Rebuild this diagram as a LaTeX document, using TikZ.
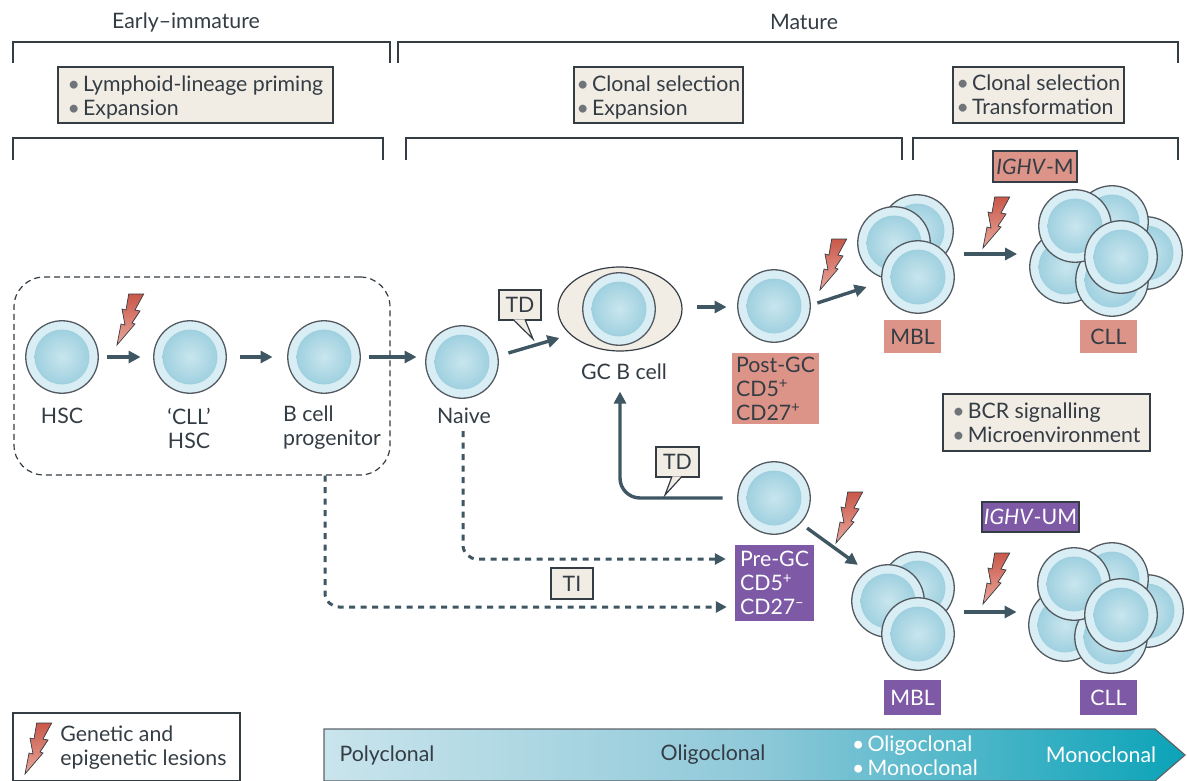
\documentclass[tikz,border=0pt]{standalone}
\usepackage{fontspec}
\setmainfont{Lato}
\usetikzlibrary{arrows.meta,shapes.geometric}
\definecolor{ink}{HTML}{343C44}
\definecolor{arrowc}{HTML}{3F5663}
\definecolor{beige}{HTML}{F1ECE4}
\definecolor{salmon}{HTML}{DD9488}
\definecolor{purp}{HTML}{7D59A6}
\definecolor{cellout}{HTML}{D9EEF4}
\definecolor{cellin}{HTML}{C9E6EE}
\definecolor{cellin2}{HTML}{9FD0DF}
\definecolor{bull}{HTML}{6E7478}
\definecolor{boltA}{HTML}{C9584A}
\definecolor{boltB}{HTML}{E9A79B}
\definecolor{barA}{HTML}{C9E4EC}
\definecolor{barB}{HTML}{8FC9D9}
\definecolor{barC}{HTML}{0BA3B8}
\newcommand{\bl}{\textcolor{bull}{•}\hspace{3pt}}
\newcommand{\wbl}{\textcolor{white}{•}\hspace{3pt}}
\newcommand{\upstrut}{\rule{0pt}{21pt}}
\newcommand{\mkcell}[3]{%
  \node[cellouter] (#1) at (#2,#3) {};
  \node[cellinner] (#1i) at (#2,#3) {};}
\tikzset{
  x=1pt,y=-1pt,
  every node/.style={font=\fontsize{21.3}{24}\selectfont,text=ink,inner sep=0pt},
  cellouter/.style={circle,minimum size=72.5pt,fill=cellout,draw=ink!85,line width=1.3pt},
  cellinner/.style={circle,minimum size=55pt,inner color=cellin,outer color=cellin2},
  brk/.style={draw=ink,line width=1.2pt},
  beigebox/.style={draw=ink,line width=1.2pt,fill=beige,align=left},
  salbox/.style={fill=salmon,align=left},
  purbox/.style={fill=purp,text=white,align=left},
  txt/.style={align=left},
  arr/.style={draw=arrowc,line width=3.4pt,-{Triangle[length=12pt,width=12pt]}},
  dasharr/.style={draw=arrowc,line width=3pt,dash pattern=on 6pt off 5.5pt,rounded corners=14pt,-{Triangle[length=11pt,width=11pt]}},
  boltshape/.style={draw=ink,line width=0.7pt,top color=boltA,bottom color=boltB},
  bolt/.pic={
    \path[boltshape] (0,0) -- (4,-21) -- (8,-20) -- (5,-36) -- (9,-35) -- (11.7,-51) -- (26.7,-51)
      -- (18,-35) -- (23,-34) -- (15,-22) -- (18,-21) -- cycle;
  }
}
\begin{document}
\begin{tikzpicture}
\useasboundingbox (0,0) rectangle (1187,781);
% headings
\node (hearly) at (186,22) {Early–immature};
\node (hmature) at (804,22) {Mature};
% brackets
\draw[brk] (13,63) -- (13,42) -- (390,42) -- (390,63);
\draw[brk] (398,63) -- (398,42) -- (1178,42) -- (1178,63);
\draw[brk] (13,160) -- (13,138) -- (383,138) -- (383,160);
\draw[brk] (406,160) -- (406,138) -- (902,138) -- (902,160);
\draw[brk] (913,160) -- (913,138) -- (1178,138) -- (1178,160);
% beige boxes
\node[beigebox,minimum width=275pt,minimum height=56pt] (b1) at (195.5,95) {\upstrut\bl Lymphoid-lineage priming\\\bl Expansion};
\node[beigebox,minimum width=169pt,minimum height=56pt] (b2) at (658.5,95) {\upstrut\bl Clonal selection\\\bl Expansion};
\node[beigebox,minimum width=171pt,minimum height=56pt] (b3) at (1038.5,95) {\bl Clonal selection\\\bl Transformation};
\node[beigebox,minimum width=207pt,minimum height=57pt] (b4) at (1046.5,422.5) {\bl BCR signalling\\\bl Microenvironment};
% dashed region
\node[draw=ink,line width=1.2pt,dash pattern=on 6pt off 4pt,rounded corners=30pt,minimum width=376pt,minimum height=198pt] (early) at (202,376) {};
% cells
\mkcell{hsc}{62}{357}
\mkcell{clh}{190}{357}
\mkcell{prog}{324}{357}
\mkcell{naive}{462}{362}
\node[ellipse,minimum width=124pt,minimum height=84pt,fill=beige,draw=ink,line width=1.2pt] (gc) at (620,309) {};
\mkcell{gcc}{619}{309}
\mkcell{post}{774}{306}
\mkcell{low}{774}{498}
% top MBL
\mkcell{ma}{917}{231}
\mkcell{mb}{894}{243}
\mkcell{mc}{918}{277}
% top CLL
\mkcell{ca}{1146}{253}
\mkcell{cb}{1112}{222}
\mkcell{cc}{1066}{267}
\mkcell{cd}{1112}{280}
\mkcell{ce}{1075}{226}
\mkcell{cf}{1121}{257}
% lower MBL
\mkcell{na}{918}{588}
\mkcell{nb}{888}{601}
\mkcell{nc}{918}{634}
% lower CLL
\mkcell{da}{1147}{611}
\mkcell{db}{1112}{579}
\mkcell{dc}{1065}{625}
\mkcell{dd}{1111}{637}
\mkcell{de}{1074}{584}
\mkcell{df}{1121}{615}
% cell labels
\node (lhsc) at (62,416) {HSC};
\node[txt,align=center] (lclh) at (189,428) {‘CLL’\\HSC};
\node[txt] (lprog) at (332,428) {B cell\\progenitor};
\node (lnaive) at (464,416) {Naive};
\node (lgc) at (624,372) {GC B cell};
% coloured boxes
\node[salbox,minimum width=87pt,minimum height=71pt] (pgc) at (775.5,388.5) {Post-GC\\CD5\textsuperscript{+}\\CD27\textsuperscript{+}};
\node[purbox,minimum width=79pt,minimum height=76pt] (pre) at (774.5,583) {Pre-GC\\CD5\textsuperscript{+}\\CD27\textsuperscript{–}};
\node[salbox,minimum width=57pt,minimum height=33pt] (mbl1) at (912.5,336.5) {MBL};
\node[salbox,minimum width=57pt,minimum height=33pt] (cll1) at (1108.5,336.5) {CLL};
\node[purbox,minimum width=57pt,minimum height=35pt] (mbl2) at (912.5,697.5) {MBL};
\node[purbox,minimum width=57pt,minimum height=35pt] (cll2) at (1108.5,697.5) {CLL};
\node[salbox,draw=ink,line width=1.2pt,minimum width=84pt,minimum height=31pt] (im) at (1035,166.5) {\textit{IGHV}-M};
\node[purbox,draw=ink,line width=1.2pt,minimum width=97pt,minimum height=30pt] (ium) at (1030.5,517) {\textit{IGHV}-UM};
% arrows
\draw[arr,shorten <=8.5pt,shorten >=12.5pt] (hsc) -- (clh);
\draw[arr,shorten <=13.5pt,shorten >=14.5pt] (clh) -- (prog);
\draw[arr] ([xshift=8.5pt]prog.east) -- ([xshift=-8.5pt,yshift=5pt]naive.west);
\draw[arr] ([shift={(9.5,-9)}]naive.east) -- ([shift={(2,29)}]gc.west);
\draw[arr] ([shift={(14,-2)}]gc.east) -- ([shift={(-10.5,1)}]post.west);
\draw[arr] ([shift={(6.5,-3)}]post.east) -- ([shift={(-14.5,10)}]mc.west);
\draw[arr] ([shift={(9,-23)}]mc.east) -- ([shift={(-12,-13)}]cc.west);
\draw[arr,rounded corners=20pt] ([xshift=-14.5pt]low.west) -- (620,498) -- ([yshift=-40pt]gc.south);
\draw[arr] ([shift={(7,4)}]low.south east) -- ([shift={(-4,-10)}]nb.north west);
\draw[arr] ([shift={(9,-22)}]nc.east) -- ([shift={(-11.5,-13)}]dc.west);
% dashed arrows
\draw[dasharr] ([xshift=-1pt,yshift=-7pt]lnaive.south) -- (463,559) -- ([shift={(-9,-24)}]pre.west);
\draw[dasharr] ([xshift=123pt]early.south) -- (325,607) -- ([shift={(-8,24)}]pre.west);
% TD / TI
\node[beigebox,minimum width=42pt,minimum height=30pt] (td1) at (520,305) {TD};
\path[draw=ink,line width=1.2pt,fill=beige] (513,319.4) -- (533,339) -- (525,319.4);
\node[beigebox,minimum width=43pt,minimum height=30pt] (td2) at (677.5,462) {TD};
\path[draw=ink,line width=1.2pt,fill=beige] (672,476.4) -- (665,495) -- (682,476.4);
\node[beigebox,minimum width=42pt,minimum height=31pt] (ti) at (572,583.5) {TI};
% bolts
\pic at (117,345) {bolt};
\pic at (820,290) {bolt};
\pic at (983,248) {bolt};
\pic at (836,543) {bolt};
\pic at (983,604) {bolt};
% legend
\node[draw=ink,line width=1.2pt,minimum width=227pt,minimum height=68pt] (leg) at (126.5,747) {};
\pic at (25,774) {bolt};
\node[txt] (legt) at (143.5,748) {Genetic and\\epigenetic lesions};
% gradient bar
\path[draw=ink!80,line width=1.2pt,left color=barA,right color=barC,middle color=barB] (324,729) -- (1155,729) -- (1185,755) -- (1155,781) -- (324,781) -- cycle;
\node (pc) at (387,755) {Polyclonal};
\node (oc) at (713,755) {Oligoclonal};
\node[txt,text=white] (om) at (915,756) {\wbl Oligoclonal\\\wbl Monoclonal};
\node[text=white] (mc2) at (1101,755) {Monoclonal};
\end{tikzpicture}
\end{document}
